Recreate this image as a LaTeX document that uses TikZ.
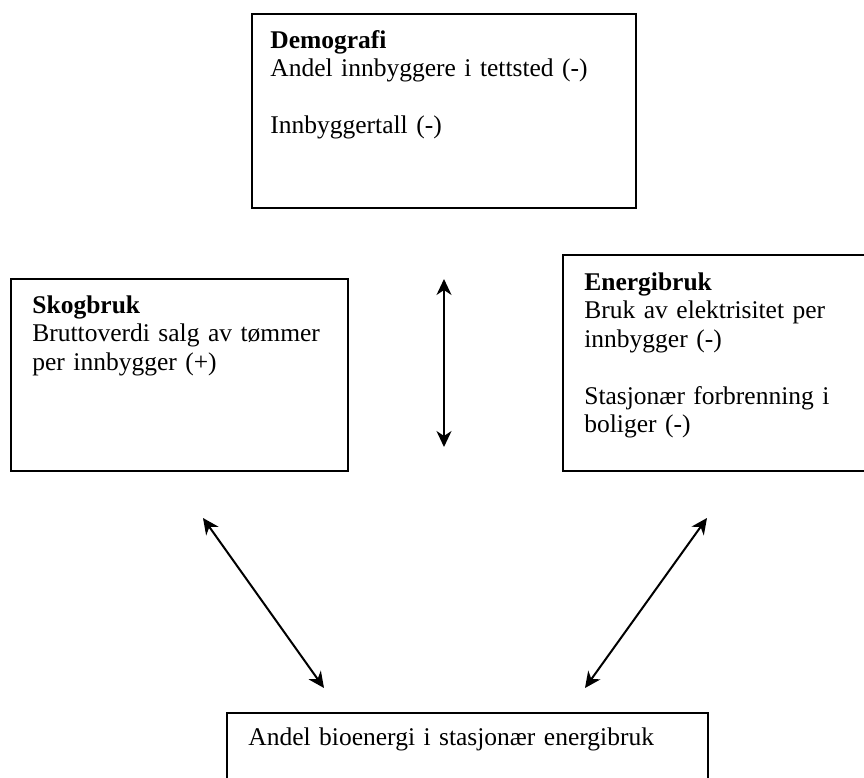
\documentclass[tikz,border=0pt]{standalone}
\usepackage{fontspec}
\setmainfont{Liberation Serif}
\usetikzlibrary{arrows.meta,positioning}
\tikzset{
	box/.style = {rectangle, draw=black, line width=1.1pt, anchor=north west, inner sep=0pt},
	boxtext/.style = {anchor=north west, inner sep=0pt, align=left, text width=175pt,
		font=\fontsize{12.75}{14.25}\selectfont},
	arrow/.style = {line width=1pt, {Stealth[length=8pt,width=7.5pt,inset=2.5pt]}-{Stealth[length=8pt,width=7.5pt,inset=2.5pt]}}
}

\begin{document}
\begin{tikzpicture}[x=0.5pt, y=-0.5pt]
\path[use as bounding box, clip] (0,0) rectangle (864,778);
%----------------------------------------------------------------------------
% Placement of boxes
\node (demografi) [box, minimum width=192pt, minimum height=97pt] at (251,13) {};
\node (skogbruk) [box, minimum width=168.5pt, minimum height=96pt] at (10,278) {};
\node (energibruk) [box, minimum width=159pt, minimum height=108pt] at (562,254) {};
\node (bioenergi) [box, minimum width=240.5pt, minimum height=44pt] at (226,712) {};

%----------------------------------------------------------------------------
% Texts
\node (demografiTxt) [boxtext] at ([xshift=9.5pt, yshift=-8.5pt] demografi.north west)
	{\textbf{Demografi}\\Andel innbyggere i tettsted (-)\\[14.25pt]Innbyggertall (-)};
\node (skogbrukTxt) [boxtext] at ([xshift=11pt, yshift=-8.5pt] skogbruk.north west)
	{\textbf{Skogbruk}\\Bruttoverdi salg av tømmer\\per innbygger (+)};
\node (energibrukTxt) [boxtext] at ([xshift=11pt, yshift=-9pt] energibruk.north west)
	{\textbf{Energibruk}\\Bruk av elektrisitet per\\innbygger (-)\\[14.25pt]Stasjonær forbrenning i\\boliger (-)};
\node (bioenergiTxt) [boxtext, text width=230pt] at ([xshift=11pt, yshift=-7.5pt] bioenergi.north west)
	{Andel bioenergi i stasjonær energibruk};

%----------------------------------------------------------------------------
% Lines
\coordinate (midTop) at (444,279);
\coordinate (midBot) at (444,447);
\coordinate (leftTop) at (203,518);
\coordinate (leftBot) at (324,688);
\coordinate (rightTop) at (707,518);
\coordinate (rightBot) at (585,688);

\draw [arrow] (midTop) -- (midBot);
\draw [arrow] (leftTop) -- (leftBot);
\draw [arrow] (rightTop) -- (rightBot);

\end{tikzpicture}
\end{document}
